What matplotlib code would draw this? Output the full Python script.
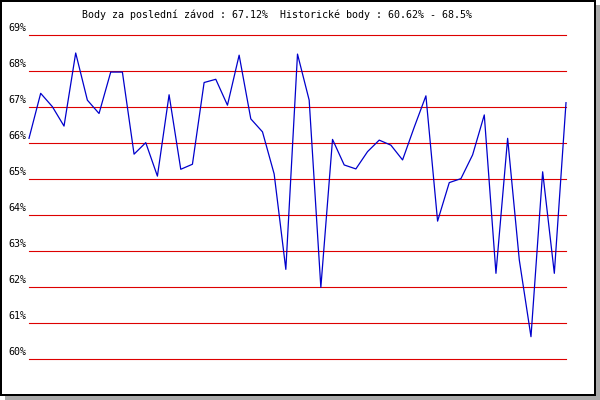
"""
Recreation of a race-points history chart (Czech labels), 600x400 px.
Run: python plot.py  -> out.png
"""
import matplotlib
matplotlib.use("Agg")
import matplotlib.pyplot as plt
from matplotlib.patches import Rectangle

# points (%) per race, oldest -> newest
points = [66.13, 67.38, 67.01, 66.47, 68.50, 67.19, 66.82, 67.97, 67.97, 65.69,
          66.01, 65.08, 67.34, 65.27, 65.41, 67.68, 67.77, 67.05, 68.44, 66.67,
          66.31, 65.14, 62.49, 68.47, 67.19, 61.99, 66.10, 65.39, 65.28, 65.76,
          66.08, 65.94, 65.53, 66.44, 67.31, 63.83, 64.90, 65.01, 65.67, 66.78,
          62.38, 66.13, 62.75, 60.62, 65.20, 62.38, 67.12]
y_ticks = [60, 61, 62, 63, 64, 65, 66, 67, 68, 69]
y_tick_labels = [f"{v}%" for v in y_ticks]
title = "Body za poslední závod : 67.12%  Historické body : 60.62% - 68.5%"

W, H = 600, 400
GRID_RED = "#dd0000"
LINE_BLUE = "#0000cc"
MONO = "DejaVu Sans Mono"

fig = plt.figure(figsize=(W / 100, H / 100), dpi=100)
fig.patch.set_facecolor("white")

# frame + drop shadow, drawn in a pixel-space background axes
bg = fig.add_axes([0, 0, 1, 1])
bg.set_xlim(0, W)
bg.set_ylim(H, 0)
bg.axis("off")
bg.add_patch(Rectangle((5, 5), W - 5, H - 5, facecolor="#aaaaaa", edgecolor="none"))
bg.add_patch(Rectangle((0, 0), 596, 396, facecolor="black", edgecolor="none"))
bg.add_patch(Rectangle((2, 2), 592, 392, facecolor="white", edgecolor="none"))
bg.text(82, 18, title, ha="left", va="baseline", fontsize=7.2,
        family=MONO, color="black")

# plot area: x 29..566 px, y 35 (69%) .. 359 (60%)
left, right, top, bottom = 29, 566, 35, 359
ax = fig.add_axes([left / W, 1 - bottom / H, (right - left) / W, (bottom - top) / H])
ax.set_xlim(0, len(points) - 1)
ax.set_ylim(y_ticks[0], y_ticks[-1])
ax.axis("off")
ax.patch.set_alpha(0)

for v, lab in zip(y_ticks, y_tick_labels):
    ax.axhline(v, color=GRID_RED, linewidth=0.8, zorder=1, clip_on=False)
    ax.annotate(lab, xy=(0, v), xycoords=("axes fraction", "data"),
                xytext=(-2, 1.3), textcoords="offset points",
                ha="right", va="bottom", fontsize=7.2,
                family=MONO, color="black", annotation_clip=False)

ax.plot(range(len(points)), points, color=LINE_BLUE, linewidth=0.9, zorder=2,
        clip_on=False)

fig.savefig("out.png", dpi=100)
